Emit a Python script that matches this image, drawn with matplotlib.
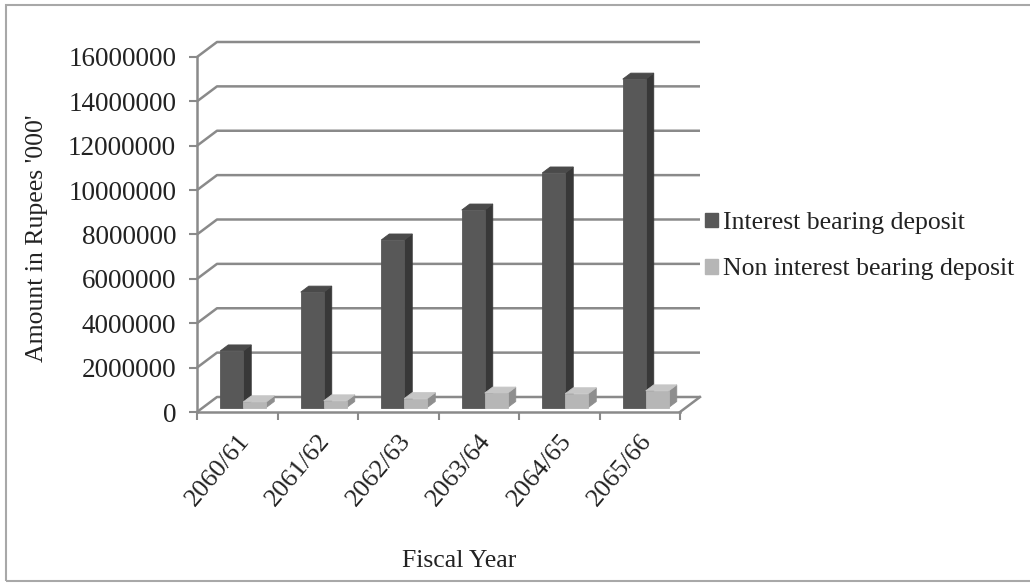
import matplotlib
matplotlib.use("Agg")
import matplotlib.pyplot as plt
from matplotlib.patches import Polygon, Patch, Rectangle

# Deposit amounts (Rupees '000') by fiscal year
years = ["2060/61", "2061/62", "2062/63", "2063/64", "2064/65", "2065/66"]
interest_bearing = [2550000, 5200000, 7550000, 8900000, 10570000, 14800000]
non_interest_bearing = [250000, 300000, 400000, 650000, 620000, 750000]
y_ticks = [0, 2000000, 4000000, 6000000, 8000000, 10000000, 12000000, 14000000, 16000000]
series_names = ["Interest bearing deposit", "Non interest bearing deposit"]

# Styling
FONT = "Liberation Serif"
FS = 18.5
TEXT_C = "#222222"
GRID_C = "#8a8a8a"
DARK = ("#585858", "#383838", "#4a4a4a")    # front, side, top
LIGHT = ("#b6b6b6", "#8e8e8e", "#c6c6c6")

W, H = 1030, 583
fig = plt.figure(figsize=(W / 100, H / 100), dpi=100)

# Oblique depth: one full depth step in data units
n = len(years)
px_per_cat = 80.5
px_per_val = 355 / 16000000
DX = 20 / px_per_cat
DY = 15 / px_per_val
YMAX = y_ticks[-1]

left_px, right_px = 197, 197 + n * px_per_cat + 20
bottom_px, top_px = 412, 412 - (YMAX + DY) * px_per_val
ax = fig.add_axes([left_px / W, 1 - bottom_px / H,
                   (right_px - left_px) / W, (bottom_px - top_px) / H])
ax.set_xlim(0, n + DX)
ax.set_ylim(0, YMAX + DY)
ax.patch.set_visible(False)


def shift(x, y, f):
    return (x + f * DX, y + f * DY)


# Back wall gridlines and left-wall diagonals
for v in y_ticks:
    ax.plot([0, DX, n + DX], [v, v + DY, v + DY], color=GRID_C, lw=1.8,
            zorder=1, clip_on=False, solid_capstyle="butt")
# Right edge of floor
ax.plot([n, n + DX], [0, DY], color=GRID_C, lw=1.8, zorder=1, clip_on=False)

# Bars: gap width 150% -> bar width 1/3.5, depth from f0 to f1
bw = 1 / 3.5
f0, f1 = 0.3, 0.7


def bar3d(x0, x1, v, colors, z):
    front, side, top = colors
    side_pts = [shift(x1, 0, f0), shift(x1, v, f0), shift(x1, v, f1), shift(x1, 0, f1)]
    top_pts = [shift(x0, v, f0), shift(x1, v, f0), shift(x1, v, f1), shift(x0, v, f1)]
    front_pts = [shift(x0, 0, f0), shift(x1, 0, f0), shift(x1, v, f0), shift(x0, v, f0)]
    for pts, c in ((side_pts, side), (top_pts, top), (front_pts, front)):
        ax.add_patch(Polygon(pts, closed=True, facecolor=c, edgecolor=c,
                             lw=0.6, zorder=z, clip_on=False))


for i in range(n):
    start = i + (1 - 2 * bw) / 2
    bar3d(start, start + bw, interest_bearing[i], DARK, 3 + 2 * i)
    bar3d(start + bw, start + 2 * bw, non_interest_bearing[i], LIGHT, 4 + 2 * i)

# Axes: front value axis and front floor edge
for s in ("top", "right"):
    ax.spines[s].set_visible(False)
ax.spines["left"].set_bounds(0, YMAX)
ax.spines["bottom"].set_bounds(0, n)
for s in ("left", "bottom"):
    ax.spines[s].set_color(GRID_C)
    ax.spines[s].set_linewidth(1.8)
    ax.spines[s].set_zorder(2)

ax.set_yticks(y_ticks)
ax.set_yticklabels([str(v) for v in y_ticks], fontfamily=FONT, fontsize=19.5, color=TEXT_C)
ax.tick_params(axis="y", length=6, width=1.5, color=GRID_C, pad=9)

ax.set_xticks([i + 0.5 for i in range(n)])
ax.set_xticklabels(years, rotation=50, ha="right", rotation_mode="anchor",
                   fontfamily=FONT, fontsize=19, color=TEXT_C)
ax.tick_params(axis="x", which="major", length=0, pad=13)
ax.set_xticks(range(n + 1), minor=True)
ax.tick_params(axis="x", which="minor", length=6, width=1.5, color=GRID_C)

fig.text(37 / W, 1 - 238 / H, "Amount in Rupees '000'", rotation=90,
         ha="center", va="center", fontfamily=FONT, fontsize=FS, color=TEXT_C)
fig.text(459 / W, 1 - 561 / H, "Fiscal Year", ha="center", va="center",
         fontfamily=FONT, fontsize=FS, color=TEXT_C)

handles = [Patch(facecolor=DARK[0], edgecolor=DARK[0]),
           Patch(facecolor=LIGHT[0], edgecolor=LIGHT[0])]
fig.legend(handles, series_names, loc="upper left",
           bbox_to_anchor=(705 / W, 1 - 212 / H), frameon=False,
           borderpad=0, borderaxespad=0, handlelength=0.5, handleheight=0.5,
           handletextpad=0.2, labelspacing=0.95,
           prop={"family": FONT, "size": FS}, labelcolor=TEXT_C)

# Outer chart frame
fig.add_artist(Rectangle((6 / W, 1 - 581 / H), (W + 10) / W, 576 / H,
                         transform=fig.transFigure, fill=False,
                         edgecolor="#a8a8a8", lw=1.5, clip_on=False))

fig.savefig("out.png", dpi=100, facecolor="white")
